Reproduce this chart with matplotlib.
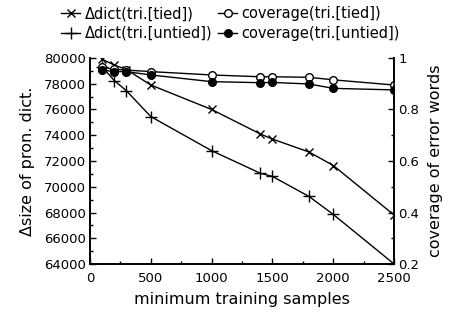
import numpy as np
import matplotlib.pyplot as plt
from matplotlib.ticker import MultipleLocator

samples = [100, 200, 300, 500, 1000, 1400, 1500, 1800, 2000, 2500]
dict_tied = [79900, 79450, 79100, 77900, 76000, 74100, 73700, 72700, 71650, 67800]
dict_untied = [79300, 78250, 77450, 75450, 72800, 71050, 70800, 69250, 67850, 64000]
cov_tied = [0.964, 0.956, 0.953, 0.947, 0.934, 0.927, 0.927, 0.925, 0.915, 0.895]
cov_untied = [0.953, 0.947, 0.947, 0.934, 0.908, 0.904, 0.905, 0.899, 0.882, 0.876]

plt.rcParams['font.family'] = 'DejaVu Sans'
plt.rcParams['font.size'] = 9.5

fig = plt.figure(figsize=(4.52, 3.22), dpi=100)
ax = fig.add_axes([0.199, 0.180, 0.673, 0.640])
ax2 = ax.twinx()

l1, = ax.plot(samples, dict_tied, 'k-', marker='x', ms=6, mew=1, lw=1)
l2, = ax.plot(samples, dict_untied, 'k-', marker='+', ms=8, mew=1, lw=1)
l3, = ax2.plot(samples, cov_tied, 'k-', marker='o', ms=5.5, mfc='white', mew=1, lw=1)
l4, = ax2.plot(samples, cov_untied, 'k-', marker='o', ms=5.5, mfc='black', lw=1)

ax.set_xlim(0, 2500)
ax.set_ylim(64000, 80000)
ax2.set_ylim(0.2, 1.0)
ax.xaxis.set_major_locator(MultipleLocator(500))
ax.xaxis.set_minor_locator(MultipleLocator(250))
ax.yaxis.set_major_locator(MultipleLocator(2000))
ax.yaxis.set_minor_locator(MultipleLocator(1000))
ax2.yaxis.set_major_locator(MultipleLocator(0.2))
ax2.yaxis.set_minor_locator(MultipleLocator(0.1))
ax2.yaxis.set_major_formatter(plt.FuncFormatter(lambda v, p: '%g' % round(v, 1)))

for a in (ax, ax2):
    a.spines['top'].set_visible(False)
    a.tick_params(which='both', direction='in', width=1)
    a.tick_params(which='major', length=4, pad=3)
    a.tick_params(which='minor', length=2)
    for s in a.spines.values():
        s.set_linewidth(1.2)
ax.tick_params(axis='x', pad=6)

ax.set_xlabel('minimum training samples', labelpad=5, fontsize=11.5)
ax.set_ylabel('\u0394size of pron. dict.', labelpad=6, fontsize=11.5)
ax2.set_ylabel('coverage of error words', labelpad=6, fontsize=11.5)

fig.legend([l1, l2, l3, l4],
           ['\u0394dict(tri.[tied])', '\u0394dict(tri.[untied])',
            'coverage(tri.[tied])', 'coverage(tri.[untied])'],
           ncol=2, loc='upper center', bbox_to_anchor=(0.51, 0.985),
           frameon=False, handlelength=1.3, handletextpad=0.3,
           columnspacing=0.4, labelspacing=0.3, borderaxespad=0,
           borderpad=0.1, fontsize=10.5)

fig.savefig('out.png', dpi=100)
